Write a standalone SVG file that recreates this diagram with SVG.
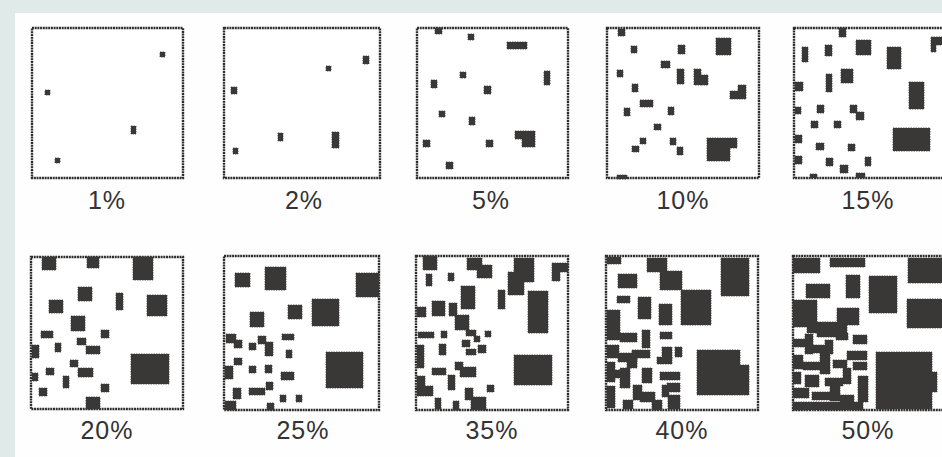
<svg xmlns="http://www.w3.org/2000/svg" width="942" height="457" viewBox="0 0 942 457">
<style>
.box{fill:#fff;stroke:#2e2c2c;stroke-width:2.4;stroke-dasharray:2 0.7}
.b{fill:#3a3737;stroke:#3a3737;stroke-width:0.8;stroke-dasharray:1.5 1}
.lbl{font-family:"Liberation Sans",Arial,sans-serif;font-size:25px;fill:#333;text-anchor:middle;letter-spacing:1px}
</style>
<rect x="0" y="0" width="942" height="457" fill="#e0ebe9"/>
<rect x="15" y="13" width="927" height="444" fill="#fefefe"/>

<g id="p1">
<rect class="box" x="32" y="28" width="151" height="150"/>
<rect class="b" x="160" y="52" width="5" height="5"/>
<rect class="b" x="45" y="90" width="5" height="5"/>
<rect class="b" x="131" y="126" width="5" height="8"/>
<rect class="b" x="55" y="158" width="5" height="5"/>
<text class="lbl" x="107" y="209">1%</text>
</g>

<g id="p2">
<rect class="box" x="224" y="28" width="156" height="150"/>
<rect class="b" x="363" y="56" width="6" height="8"/>
<rect class="b" x="326" y="66" width="5" height="5"/>
<rect class="b" x="231" y="87" width="6" height="7"/>
<rect class="b" x="278" y="133" width="5" height="8"/>
<rect class="b" x="332" y="132" width="7" height="16"/>
<rect class="b" x="233" y="148" width="5" height="6"/>
<text class="lbl" x="304" y="209">2%</text>
</g>

<g id="p3">
<rect class="box" x="417" y="28" width="151" height="150"/>
<rect class="b" x="435" y="28" width="7" height="6"/>
<rect class="b" x="468" y="34" width="6" height="6"/>
<rect class="b" x="507" y="42" width="20" height="7"/>
<rect class="b" x="544" y="71" width="6" height="14"/>
<rect class="b" x="460" y="72" width="6" height="6"/>
<rect class="b" x="431" y="80" width="6" height="8"/>
<rect class="b" x="484" y="86" width="7" height="8"/>
<rect class="b" x="439" y="111" width="6" height="6"/>
<rect class="b" x="469" y="117" width="6" height="8"/>
<polygon class="b" points="515,131 535,131 535,147 522,147 522,139 515,139"/>
<rect class="b" x="423" y="140" width="7" height="7"/>
<rect class="b" x="486" y="140" width="7" height="7"/>
<rect class="b" x="446" y="162" width="7" height="7"/>
<text class="lbl" x="491" y="209">5%</text>
</g>

<g id="p4">
<rect class="box" x="607" y="28" width="152" height="150"/>
<rect class="b" x="618" y="29" width="7" height="7"/>
<rect class="b" x="716" y="38" width="15" height="17"/>
<rect class="b" x="631" y="46" width="6" height="7"/>
<rect class="b" x="678" y="45" width="7" height="9"/>
<rect class="b" x="661" y="61" width="9" height="7"/>
<rect class="b" x="617" y="70" width="6" height="7"/>
<rect class="b" x="677" y="69" width="7" height="15"/>
<rect class="b" x="694" y="69" width="7" height="16"/>
<rect class="b" x="701" y="75" width="7" height="10"/>
<polygon class="b" points="738,85 746,85 746,99 730,99 730,91 738,91"/>
<rect class="b" x="640" y="100" width="13" height="7"/>
<rect class="b" x="624" y="108" width="6" height="8"/>
<rect class="b" x="668" y="107" width="6" height="8"/>
<rect class="b" x="632" y="84" width="6" height="8"/>
<rect class="b" x="654" y="124" width="7" height="6"/>
<rect class="b" x="640" y="138" width="6" height="6"/>
<rect class="b" x="632" y="146" width="7" height="6"/>
<rect class="b" x="670" y="138" width="6" height="7"/>
<rect class="b" x="677" y="147" width="6" height="8"/>
<polygon class="b" points="707,138 737,138 737,148 730,148 730,161 707,161"/>
<rect class="b" x="617" y="175" width="10" height="4"/>
<text class="lbl" x="683" y="209">10%</text>
</g>

<g id="p5">
<rect class="box" x="794" y="28" width="152" height="150"/>
<rect class="b" x="839" y="28" width="7" height="9"/>
<rect class="b" x="856" y="40" width="15" height="15"/>
<polygon class="b" points="931,37 942,37 942,45 936,45 936,52 931,52"/>
<rect class="b" x="802" y="47" width="6" height="15"/>
<rect class="b" x="825" y="45" width="7" height="11"/>
<rect class="b" x="887" y="47" width="14" height="22"/>
<rect class="b" x="841" y="69" width="12" height="14"/>
<rect class="b" x="826" y="74" width="6" height="18"/>
<rect class="b" x="795" y="82" width="8" height="9"/>
<rect class="b" x="909" y="82" width="15" height="27"/>
<rect class="b" x="795" y="107" width="6" height="7"/>
<rect class="b" x="817" y="105" width="7" height="8"/>
<rect class="b" x="850" y="105" width="7" height="8"/>
<rect class="b" x="856" y="112" width="8" height="8"/>
<rect class="b" x="811" y="121" width="7" height="7"/>
<rect class="b" x="834" y="121" width="7" height="7"/>
<rect class="b" x="893" y="128" width="37" height="23"/>
<rect class="b" x="795" y="135" width="7" height="8"/>
<rect class="b" x="816" y="143" width="8" height="7"/>
<rect class="b" x="848" y="144" width="7" height="7"/>
<rect class="b" x="795" y="156" width="7" height="8"/>
<rect class="b" x="826" y="158" width="7" height="8"/>
<rect class="b" x="865" y="157" width="6" height="9"/>
<rect class="b" x="840" y="165" width="8" height="8"/>
<rect class="b" x="810" y="174" width="7" height="4"/>
<rect class="b" x="856" y="173" width="9" height="5"/>
<text class="lbl" x="868" y="209">15%</text>
</g>

<g id="p6">
<rect class="box" x="31" y="257" width="152" height="152"/>
<rect class="b" x="42" y="257" width="14" height="13"/>
<rect class="b" x="87" y="257" width="12" height="11"/>
<rect class="b" x="133" y="257" width="20" height="23"/>
<rect class="b" x="78" y="287" width="14" height="14"/>
<rect class="b" x="116" y="293" width="7" height="17"/>
<rect class="b" x="147" y="295" width="20" height="21"/>
<rect class="b" x="49" y="300" width="14" height="13"/>
<rect class="b" x="71" y="316" width="14" height="15"/>
<rect class="b" x="41" y="331" width="12" height="7"/>
<rect class="b" x="101" y="330" width="8" height="8"/>
<rect class="b" x="77" y="338" width="9" height="7"/>
<rect class="b" x="86" y="346" width="14" height="8"/>
<rect class="b" x="55" y="343" width="6" height="9"/>
<rect class="b" x="32" y="345" width="7" height="13"/>
<rect class="b" x="131" y="354" width="38" height="30"/>
<rect class="b" x="70" y="360" width="8" height="7"/>
<rect class="b" x="78" y="368" width="15" height="9"/>
<rect class="b" x="46" y="368" width="8" height="7"/>
<rect class="b" x="32" y="373" width="6" height="8"/>
<rect class="b" x="63" y="376" width="6" height="12"/>
<rect class="b" x="39" y="388" width="8" height="8"/>
<rect class="b" x="101" y="384" width="8" height="8"/>
<rect class="b" x="86" y="397" width="14" height="12"/>
<text class="lbl" x="107" y="439">20%</text>
</g>

<g id="p7">
<rect class="box" x="224" y="256" width="155" height="154"/>
<rect class="b" x="235" y="273" width="15" height="14"/>
<rect class="b" x="265" y="267" width="21" height="23"/>
<rect class="b" x="356" y="273" width="23" height="24"/>
<rect class="b" x="288" y="305" width="14" height="14"/>
<rect class="b" x="312" y="299" width="27" height="27"/>
<rect class="b" x="250" y="312" width="14" height="15"/>
<rect class="b" x="226" y="334" width="10" height="9"/>
<rect class="b" x="234" y="340" width="8" height="8"/>
<rect class="b" x="282" y="334" width="12" height="6"/>
<rect class="b" x="258" y="336" width="8" height="8"/>
<rect class="b" x="265" y="342" width="8" height="14"/>
<rect class="b" x="249" y="343" width="7" height="7"/>
<rect class="b" x="286" y="350" width="6" height="8"/>
<rect class="b" x="234" y="358" width="8" height="7"/>
<rect class="b" x="326" y="352" width="37" height="36"/>
<rect class="b" x="225" y="366" width="8" height="13"/>
<rect class="b" x="249" y="366" width="7" height="7"/>
<rect class="b" x="265" y="365" width="7" height="8"/>
<rect class="b" x="281" y="372" width="13" height="8"/>
<rect class="b" x="266" y="382" width="7" height="8"/>
<rect class="b" x="249" y="388" width="16" height="7"/>
<rect class="b" x="233" y="388" width="8" height="11"/>
<rect class="b" x="280" y="395" width="6" height="7"/>
<rect class="b" x="296" y="395" width="6" height="7"/>
<rect class="b" x="225" y="401" width="11" height="9"/>
<rect class="b" x="267" y="403" width="7" height="7"/>
<text class="lbl" x="303" y="439">25%</text>
</g>

<g id="p8">
<rect class="box" x="416" y="256" width="152" height="154"/>
<rect class="b" x="423" y="256" width="14" height="14"/>
<rect class="b" x="467" y="258" width="15" height="12"/>
<rect class="b" x="477" y="265" width="15" height="13"/>
<rect class="b" x="514" y="258" width="20" height="24"/>
<rect class="b" x="508" y="272" width="16" height="23"/>
<polygon class="b" points="552,263 568,263 568,272 560,272 560,281 552,281"/>
<rect class="b" x="426" y="274" width="6" height="12"/>
<rect class="b" x="448" y="273" width="6" height="8"/>
<rect class="b" x="461" y="286" width="14" height="23"/>
<rect class="b" x="498" y="290" width="7" height="19"/>
<rect class="b" x="528" y="291" width="20" height="42"/>
<rect class="b" x="432" y="301" width="13" height="15"/>
<rect class="b" x="417" y="307" width="9" height="10"/>
<rect class="b" x="449" y="303" width="8" height="13"/>
<rect class="b" x="455" y="315" width="14" height="15"/>
<rect class="b" x="418" y="332" width="16" height="6"/>
<rect class="b" x="441" y="331" width="6" height="7"/>
<rect class="b" x="466" y="330" width="10" height="6"/>
<rect class="b" x="485" y="331" width="6" height="6"/>
<rect class="b" x="462" y="340" width="8" height="7"/>
<rect class="b" x="474" y="336" width="6" height="6"/>
<rect class="b" x="478" y="345" width="8" height="8"/>
<rect class="b" x="466" y="349" width="10" height="6"/>
<rect class="b" x="417" y="345" width="7" height="23"/>
<rect class="b" x="439" y="344" width="7" height="11"/>
<rect class="b" x="455" y="362" width="8" height="8"/>
<rect class="b" x="460" y="367" width="16" height="10"/>
<rect class="b" x="432" y="368" width="14" height="7"/>
<rect class="b" x="448" y="375" width="7" height="15"/>
<rect class="b" x="417" y="376" width="8" height="10"/>
<rect class="b" x="417" y="386" width="16" height="10"/>
<rect class="b" x="487" y="385" width="7" height="7"/>
<rect class="b" x="465" y="388" width="8" height="12"/>
<rect class="b" x="471" y="397" width="15" height="13"/>
<rect class="b" x="435" y="398" width="6" height="11"/>
<rect class="b" x="453" y="401" width="6" height="9"/>
<rect class="b" x="514" y="355" width="38" height="30"/>
<text class="lbl" x="492" y="439">35%</text>
</g>

<g id="p9">
<rect class="box" x="606" y="256" width="152" height="154"/>
<rect class="b" x="607" y="257" width="14" height="7"/>
<rect class="b" x="647" y="258" width="20" height="14"/>
<rect class="b" x="660" y="271" width="22" height="19"/>
<rect class="b" x="721" y="258" width="28" height="38"/>
<rect class="b" x="618" y="274" width="19" height="14"/>
<rect class="b" x="681" y="290" width="30" height="35"/>
<rect class="b" x="638" y="297" width="13" height="22"/>
<rect class="b" x="659" y="304" width="13" height="21"/>
<rect class="b" x="617" y="296" width="13" height="7"/>
<rect class="b" x="607" y="310" width="13" height="30"/>
<rect class="b" x="620" y="333" width="17" height="9"/>
<rect class="b" x="642" y="330" width="8" height="18"/>
<rect class="b" x="632" y="350" width="18" height="8"/>
<rect class="b" x="660" y="332" width="12" height="7"/>
<rect class="b" x="662" y="347" width="10" height="12"/>
<rect class="b" x="657" y="357" width="15" height="7"/>
<rect class="b" x="675" y="347" width="7" height="10"/>
<rect class="b" x="607" y="345" width="12" height="13"/>
<rect class="b" x="618" y="353" width="19" height="9"/>
<rect class="b" x="607" y="362" width="8" height="20"/>
<rect class="b" x="607" y="386" width="8" height="22"/>
<rect class="b" x="620" y="368" width="10" height="20"/>
<rect class="b" x="627" y="358" width="10" height="10"/>
<rect class="b" x="613" y="370" width="14" height="8"/>
<rect class="b" x="633" y="385" width="9" height="15"/>
<rect class="b" x="642" y="368" width="10" height="15"/>
<rect class="b" x="640" y="392" width="15" height="10"/>
<rect class="b" x="652" y="400" width="10" height="10"/>
<rect class="b" x="623" y="400" width="10" height="9"/>
<rect class="b" x="660" y="372" width="20" height="8"/>
<rect class="b" x="667" y="383" width="13" height="9"/>
<rect class="b" x="668" y="395" width="12" height="14"/>
<rect class="b" x="662" y="385" width="7" height="12"/>
<rect class="b" x="697" y="350" width="43" height="45"/>
<rect class="b" x="740" y="365" width="9" height="30"/>
<text class="lbl" x="682" y="439">40%</text>
</g>

<g id="p10">
<rect class="box" x="793" y="256" width="152" height="154"/>
<rect class="b" x="793" y="258" width="27" height="15"/>
<rect class="b" x="830" y="258" width="35" height="9"/>
<rect class="b" x="908" y="258" width="34" height="25"/>
<rect class="b" x="806" y="284" width="24" height="14"/>
<rect class="b" x="846" y="275" width="14" height="23"/>
<rect class="b" x="869" y="276" width="28" height="37"/>
<rect class="b" x="907" y="299" width="35" height="29"/>
<rect class="b" x="793" y="300" width="24" height="27"/>
<rect class="b" x="837" y="308" width="22" height="17"/>
<rect class="b" x="817" y="322" width="30" height="15"/>
<rect class="b" x="807" y="325" width="12" height="8"/>
<rect class="b" x="853" y="335" width="14" height="9"/>
<rect class="b" x="847" y="351" width="20" height="9"/>
<rect class="b" x="876" y="352" width="56" height="57"/>
<rect class="b" x="931" y="372" width="6" height="20"/>
<rect class="b" x="793" y="339" width="14" height="8"/>
<rect class="b" x="805" y="334" width="8" height="20"/>
<rect class="b" x="813" y="345" width="12" height="8"/>
<rect class="b" x="825" y="340" width="8" height="14"/>
<rect class="b" x="836" y="333" width="12" height="7"/>
<rect class="b" x="793" y="355" width="10" height="14"/>
<rect class="b" x="803" y="362" width="20" height="8"/>
<rect class="b" x="820" y="352" width="10" height="22"/>
<rect class="b" x="833" y="360" width="14" height="8"/>
<rect class="b" x="793" y="372" width="8" height="12"/>
<rect class="b" x="805" y="375" width="14" height="12"/>
<rect class="b" x="825" y="378" width="18" height="8"/>
<rect class="b" x="843" y="368" width="8" height="16"/>
<rect class="b" x="853" y="362" width="14" height="8"/>
<rect class="b" x="858" y="376" width="10" height="26"/>
<rect class="b" x="793" y="388" width="16" height="10"/>
<rect class="b" x="812" y="392" width="20" height="8"/>
<rect class="b" x="830" y="385" width="10" height="16"/>
<rect class="b" x="840" y="395" width="14" height="8"/>
<rect class="b" x="793" y="402" width="70" height="8"/>
<text class="lbl" x="868" y="439">50%</text>
</g>
</svg>
